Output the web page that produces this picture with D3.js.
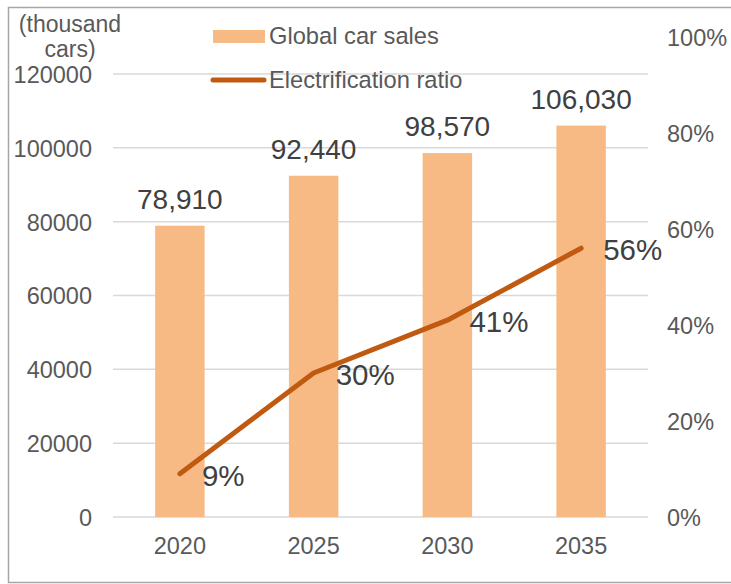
<!DOCTYPE html>
<html>
<head>
<meta charset="utf-8">
<script src="https://cdn.jsdelivr.net/npm/d3@7"></script>
<style>
  body { margin: 0; background: #fff; }
  text { font-family: "Liberation Sans", Arial, sans-serif; fill: #595959; }
</style>
</head>
<body>
<div id="visual"></div>
<script>
// chart data
const years = ["2020", "2025", "2030", "2035"];
const sales = [78910, 92440, 98570, 106030];
const ratio = [0.09, 0.30, 0.41, 0.56];
const leftTicks = [0, 20000, 40000, 60000, 80000, 100000, 120000];
const rightTicks = [0, 0.2, 0.4, 0.6, 0.8, 1.0];

const COLORS = {
    bar: "#F8BA85",
    line: "#C05A10",
    grid: "#D9D9D9",
    text: "#595959",
    border: "#A6A6A6"
};

let width = 731,
    height = 584;

let svg = d3.select("#visual")
    .append("svg")
    .attr("width", width)
    .attr("height", height);

// outer chart border
svg.append("rect")
    .attr("x", 8.5)
    .attr("y", 7.5)
    .attr("width", 730)
    .attr("height", 575)
    .style("fill", "none")
    .style("stroke", COLORS.border)
    .style("stroke-width", 1.5);

// scales
let x = d3.scaleBand()
    .domain(years)
    .range([113, 648])
    .paddingInner(0.63)
    .paddingOuter(0.315);

let yLeft = d3.scaleLinear()
    .domain([0, 120000])
    .range([517, 74]);

let yRight = d3.scaleLinear()
    .domain([0, 1])
    .range([517, 37]);

// gridlines
svg.append("g")
    .selectAll("line")
    .data(leftTicks)
    .enter().append("line")
    .attr("x1", 113)
    .attr("x2", 648)
    .attr("y1", d => yLeft(d))
    .attr("y2", d => yLeft(d))
    .style("stroke", COLORS.grid)
    .style("stroke-width", 1.5);

// left axis
let leftAxis = svg.append("g")
    .attr("transform", "translate(92,0)")
    .call(d3.axisLeft(yLeft).tickValues(leftTicks).tickSize(0).tickPadding(0).tickFormat(d3.format("d")));
leftAxis.select(".domain").remove();
leftAxis.selectAll("text")
    .style("font-size", "23.5px")
    .style("fill", COLORS.text)
    .attr("dy", "0.36em");

// right axis
let rightAxis = svg.append("g")
    .attr("transform", "translate(667,0)")
    .call(d3.axisRight(yRight).tickValues(rightTicks).tickSize(0).tickPadding(0).tickFormat(d3.format(".0%")));
rightAxis.select(".domain").remove();
rightAxis.selectAll("text")
    .style("font-size", "23.5px")
    .style("fill", COLORS.text)
    .attr("dy", "0.36em");

// x axis
let xAxis = svg.append("g")
    .attr("transform", "translate(0,517)")
    .call(d3.axisBottom(x).tickSize(0).tickPadding(20));
xAxis.select(".domain").remove();
xAxis.selectAll("text")
    .style("font-size", "23.5px")
    .style("fill", COLORS.text)
    .attr("dy", "0.71em");

// unit label
svg.append("text")
    .attr("x", 70)
    .attr("y", 32)
    .attr("text-anchor", "middle")
    .style("font-size", "23px")
    .text("(thousand");
svg.append("text")
    .attr("x", 70)
    .attr("y", 57)
    .attr("text-anchor", "middle")
    .style("font-size", "23px")
    .text("cars)");

// bars
svg.append("g")
    .selectAll("rect")
    .data(sales)
    .enter().append("rect")
    .attr("x", (d, i) => x(years[i]))
    .attr("y", d => yLeft(d))
    .attr("width", x.bandwidth())
    .attr("height", d => yLeft(0) - yLeft(d))
    .style("fill", COLORS.bar);

// bar labels
svg.append("g")
    .selectAll("text")
    .data(sales)
    .enter().append("text")
    .attr("x", (d, i) => x(years[i]) + x.bandwidth() / 2)
    .attr("y", d => yLeft(d) - 17)
    .attr("text-anchor", "middle")
    .style("font-size", "28px")
    .style("fill", "#404040")
    .text(d => d3.format(",")(d));

// line
let line = d3.line()
    .x((d, i) => x(years[i]) + x.bandwidth() / 2)
    .y(d => yRight(d));

svg.append("path")
    .datum(ratio)
    .attr("d", line)
    .style("fill", "none")
    .style("stroke", COLORS.line)
    .style("stroke-width", 5)
    .style("stroke-linecap", "round")
    .style("stroke-linejoin", "round");

// line labels
svg.append("g")
    .selectAll("text")
    .data(ratio)
    .enter().append("text")
    .attr("x", (d, i) => x(years[i]) + x.bandwidth() / 2 + 22)
    .attr("y", d => yRight(d) + 12)
    .style("font-size", "29.5px")
    .style("fill", "#404040")
    .text(d => d3.format(".0%")(d));

// legend
let legend = svg.append("g");
legend.append("rect")
    .attr("x", 213)
    .attr("y", 30)
    .attr("width", 52)
    .attr("height", 13)
    .style("fill", COLORS.bar);
legend.append("text")
    .attr("x", 269)
    .attr("y", 44)
    .style("font-size", "23.7px")
    .text("Global car sales");
legend.append("line")
    .attr("x1", 213)
    .attr("x2", 264)
    .attr("y1", 80)
    .attr("y2", 80)
    .style("stroke", COLORS.line)
    .style("stroke-width", 5)
    .style("stroke-linecap", "round");
legend.append("text")
    .attr("x", 269)
    .attr("y", 88)
    .style("font-size", "23.7px")
    .text("Electrification ratio");
</script>
</body>
</html>
